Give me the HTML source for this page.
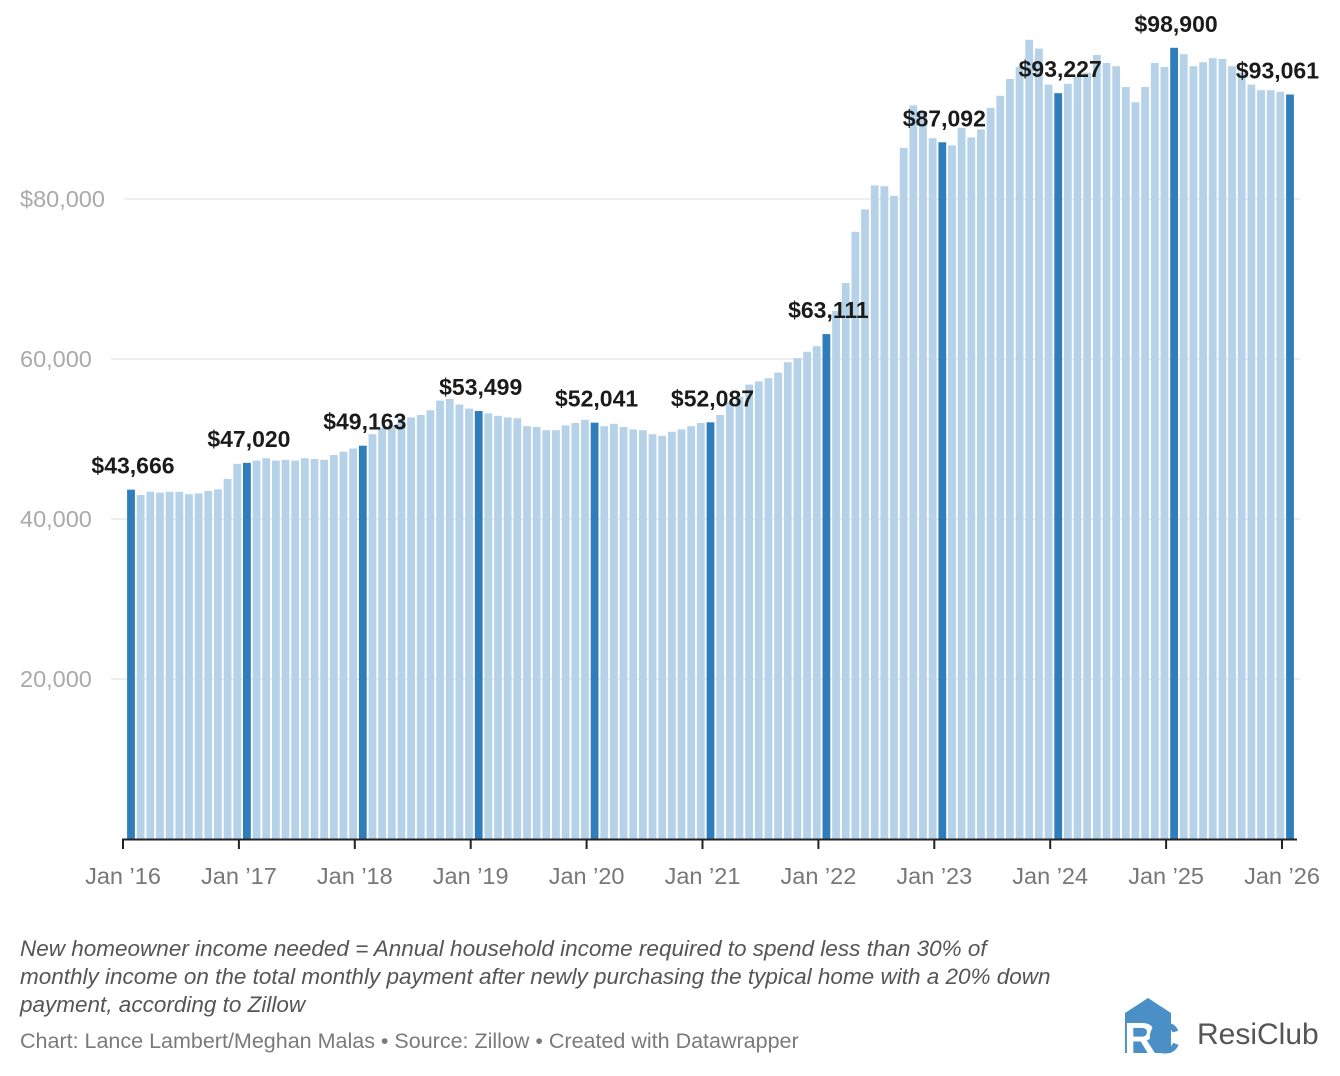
<!DOCTYPE html>
<html><head><meta charset="utf-8"><style>
body{margin:0;background:#fff;width:1340px;height:1076px;overflow:hidden;font-family:"Liberation Sans",sans-serif;}
svg text{font-family:"Liberation Sans",sans-serif;}
.note{position:absolute;left:20px;top:935px;white-space:nowrap;font-style:italic;color:#555;font-size:22.5px;line-height:28px;}
.credit{position:absolute;left:20px;top:1029px;color:#7a7a7a;font-size:21.5px;}
</style></head><body>
<svg id="chart" width="1340" height="930" style="position:absolute;left:0;top:0"></svg>
<div class="note">New homeowner income needed = Annual household income required to spend less than 30% of<br>monthly income on the total monthly payment after newly purchasing the typical home with a 20% down<br>payment, according to Zillow</div>
<div class="credit">Chart: Lance Lambert/Meghan Malas • Source: Zillow • Created with Datawrapper</div>
<svg style="position:absolute;left:1120px;top:995px" width="215" height="62">
<polygon points="5,18 28,3 51,18 51,58 5,58" fill="#4a8fc6"/>
<text x="4" y="58" font-size="44" font-weight="bold" fill="#fff" font-family="Liberation Sans">R</text>
<text x="28" y="58" font-size="44" font-weight="bold" fill="#4a8fc6" font-family="Liberation Sans">C</text>
<text x="77" y="49" font-size="30" fill="#555" font-family="Liberation Sans">ResiClub</text>
</svg>
<script>
const values=[
43.666,43.0,43.4,43.3,43.4,43.4,43.1,43.2,43.5,43.7,45.0,46.9,
47.02,47.3,47.6,47.3,47.4,47.3,47.6,47.5,47.4,48.0,48.4,48.8,
49.163,50.6,51.4,51.7,52.6,52.7,53.0,53.6,54.8,55.0,54.3,53.8,
53.499,53.2,52.9,52.7,52.6,51.6,51.5,51.1,51.1,51.7,52.0,52.4,
52.041,51.6,51.9,51.5,51.2,51.1,50.6,50.4,50.9,51.2,51.6,52.0,
52.087,53.0,54.6,55.3,56.8,57.2,57.6,58.3,59.6,60.1,60.9,61.6,
63.111,66.0,69.5,75.9,78.7,81.7,81.6,80.4,86.4,91.7,91.0,87.6,
87.092,86.7,88.9,87.7,88.7,91.4,92.9,95.0,96.5,99.9,98.8,94.3,
93.227,94.4,95.3,95.8,98.0,97.0,96.6,94.0,92.1,94.0,97.0,96.5,
98.9,98.1,96.6,97.1,97.6,97.5,96.6,95.8,94.3,93.6,93.6,93.4,
93.061].map(v=>v*1000);
const yTicks=[20000,40000,60000,80000];
const yTickLabels=["20,000","40,000","60,000","$80,000"];
const xTickLabels=["Jan \u201916","Jan \u201917","Jan \u201918","Jan \u201919","Jan \u201920","Jan \u201921","Jan \u201922","Jan \u201923","Jan \u201924","Jan \u201925","Jan \u201926"];

const svg=document.getElementById('chart');
const NS='http://www.w3.org/2000/svg';
const y=v=>839-v*0.008;
const x=i=>131+i*(1290-131)/120;
function mk(t,a){const e=document.createElementNS(NS,t);for(const k in a)e.setAttribute(k,a[k]);svg.appendChild(e);return e;}
yTicks.forEach((t,k)=>{
  const w=yTickLabels[k].length*13.2+12;
  const g=mk('line',{x1:20+w,x2:1300,y1:y(t),y2:y(t),stroke:'#e3e3e3','stroke-width':1.2});
  
  
  const l=mk('text',{x:20,y:y(t)+8,'font-size':23.5,fill:'#aaa'});
  l.textContent=yTickLabels[k];
  
  
});
values.forEach((v,i)=>{
  const jan=i%12===0;
  const b=mk('rect',{x:x(i)-3.9,y:y(v),width:7.8,height:839-y(v),fill:jan?'#2f7ebb':'#b5d2e8'});
  
  
});
values.forEach((v,i)=>{
  if(i%12!==0)return;
  const last=i===120;
  const t=mk('text',{x:last?1319:x(i)+2,y:y(v)-16,'font-size':23,'font-weight':'bold',fill:'#1b1b1b','text-anchor':last?'end':'middle'});
  t.textContent='$'+Math.round(v).toLocaleString('en-US');
  
  
});
const ax=mk('line',{x1:122,x2:1297,y1:839.5,y2:839.5,stroke:'#222','stroke-width':2});


xTickLabels.forEach((s,k)=>{
  const tx=x(k*12)-8;
  const tk=mk('line',{x1:tx,x2:tx,y1:839,y2:849,stroke:'#222','stroke-width':2});
  
  
  const t=mk('text',{x:tx,y:884,'font-size':23.5,fill:'#777','text-anchor':'middle'});
  t.textContent=s;
  
  
});
</script>
</body></html>
